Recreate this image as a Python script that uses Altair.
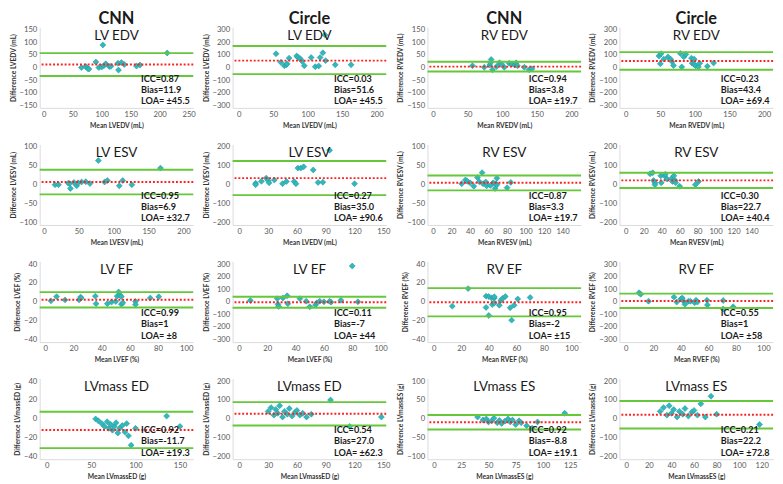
import altair as alt
import pandas as pd

FONT = "Lato"

# ---------------- data ----------------
# Row 1: EDV
lvedv_cnn_mean = [65, 72.5, 76, 78, 90, 95, 100, 102, 104, 107, 113, 116, 128, 129, 134, 139, 160, 166, 213]
lvedv_cnn_diff = [0, 4, -4, -6, 22, 0, 2, 90, 8, 15, 4, 5, 17, -10, 20, 12, 6, 10, 58]
lvedv_cir_mean = [54, 61, 66, 69, 70, 73, 84, 86, 89, 92, 95, 105, 111, 116, 118, 122, 125, 126, 140, 163]
lvedv_cir_diff = [110, 42, 15, 22, 30, 75, 92, 80, 72, 50, 15, 80, 7, 12, 80, 118, 260, 55, 22, 22]
rvedv_cnn_mean = [57, 74, 82, 83, 84, 86, 92, 96, 99, 103, 110, 114, 118, 120, 122, 132, 139, 143]
rvedv_cnn_diff = [7, 1, 10, 19, 32, -9, 4, 19, 14, 1, 17, 14, 10, 19, 7, 1, -9, -5]
rvedv_cir_mean = [48, 51, 50, 55, 61, 65, 67, 69, 79, 81, 84, 87, 95, 96, 99, 99, 101, 105, 107, 118, 127]
rvedv_cir_diff = [92, 110, 30, 67, 85, 67, 47, 17, 112, 5, 85, 105, 75, 35, 25, 67, 15, 5, 35, 10, 37]
# Row 2: ESV
lvesv_cnn_mean = [16, 21, 35, 37, 38, 43, 47, 49, 54, 60, 66, 78, 87, 91, 108, 113, 126, 167]
lvesv_cnn_diff = [0, 0, 4, 3, -10, 6, -3, 5, 7, 8, 3, 64, 7, 11, -3, 11, 0, 44]
lvesv_cir_mean = [17, 17, 23, 28, 30, 31, 36.5, 45, 49, 57, 59, 61, 64, 67, 77, 82, 87, 94, 120]
lvesv_cir_diff = [8, 0, 18, 35, 22, 10, 25, 5, 17, 17, 5, 88, 88, 95, 78, 12, 13, 183, 5]
rvesv_cnn_mean = [31, 35, 37, 40, 44, 48, 50, 53, 54, 57, 58, 62, 65, 67, 68, 69, 69, 80, 84]
rvesv_cnn_diff = [2.5, 12.5, 9, 5, -4, 19, 8, 32, 2.5, 7, -3, -2, 5, -10, 2.5, 17, 0, -8, 6]
rvesv_cir_mean = [27, 30, 31, 32.5, 32.5, 39, 39.5, 43, 44, 46, 51, 52, 53.5, 55, 55.5, 60, 77.5, 81]
rvesv_cir_diff = [58, 63, 22, 10, 0, 47, 10, 47, 55, 30, 33, 17, 47, 22, 10, -8, 0, 17]
# Row 3: EF
lvef_cnn_mean = [4, 8, 14, 24, 25, 25.5, 35.5, 36, 44, 47, 50, 51, 52, 53, 54, 54, 55, 64, 64, 74.5, 80.5]
lvef_cnn_diff = [1, 5.5, 2, 2, 5, 4, 6, -2, -2, -0.3, 0.3, 6, 10.5, 7, 5.5, -2.6, -1, 0.3, -3, 4, 5.3]
lvef_cir_mean = [8, 27, 27.5, 28, 31, 34, 34.5, 43, 47.5, 50, 54, 55, 57, 60, 64, 65, 72, 80, 84]
lvef_cir_diff = [10, 25, -20, -37, 30, 48, -15, 25, 5, -40, -25, -8, 5, 0, 5, -3, 12, 285, 0]
rvef_cnn_mean = [13.5, 25, 38, 38, 40, 40, 42, 42.5, 44, 44, 44, 47.6, 48.7, 50, 52, 55.5, 56.6, 58.4, 61, 70]
rvef_cnn_diff = [-4.6, 14, 6, -6, 5.6, -14.5, 4, -3, 4, 5.3, -1.3, -3.6, 1.3, 3.6, 5.6, -6.3, -19.5, -3.6, 3, 4.6]
rvef_cir_mean = [9.6, 10.8, 16.5, 35, 37, 40, 41, 42, 43, 45.5, 47, 50, 51, 52, 59, 59.3, 70.7, 70.7, 78]
rvef_cir_diff = [72, 60, 5, 37, -2, 22, 30, 5, -20, 5, 5, -8, 12, -2, 12, -25, 10, -57, -40]
# Row 4: LV mass
lvmed_cnn_mean = [55, 58, 62, 65, 68, 70, 72, 74, 76, 78, 80, 82, 85, 88, 90, 92, 95, 100, 135, 150]
lvmed_cnn_diff = [0, -2, -5, -8, -3, -10, -6, -12, -8, -4, -15, -10, -7, -14, -5, -18, -28, -10, 3, -8]
lvmed_cir_mean = [30, 33, 36, 38, 40, 42, 45, 47, 50, 52, 55, 58, 60, 63, 66, 70, 75, 95, 115, 148]
lvmed_cir_diff = [40, 60, 20, 50, 30, 70, 10, 40, 25, 55, 15, 35, 45, 20, 30, 10, 25, 100, -40, 10]
lvmes_cnn_mean = [40, 45, 48, 50, 53, 55, 58, 60, 62, 65, 68, 70, 72, 75, 78, 80, 85, 90, 95, 120]
lvmes_cnn_diff = [5, -3, 0, -8, -5, 2, -10, -4, -12, -6, 0, -8, -3, -15, -5, -10, -18, -25, -8, 15]
lvmes_cir_mean = [30, 33, 36, 38, 40, 42, 45, 47, 50, 52, 55, 58, 60, 63, 66, 70, 75, 80, 118]
lvmes_cir_diff = [40, 60, 20, 70, 30, 50, 10, 40, 25, 55, 15, 35, 45, 20, 80, 10, 120, 25, -30]

# panel titles, headers, axis labels, stats
panel_titles = ["LV EDV", "LV EDV", "RV EDV", "RV EDV",
                "LV ESV", "LV ESV", "RV ESV", "RV ESV",
                "LV EF", "LV EF", "RV EF", "RV EF",
                "LVmass ED", "LVmass ED", "LVmass ES", "LVmass ES"]
column_headers = ["CNN", "Circle", "CNN", "Circle"]
x_titles = ["Mean LVEDV (mL)", "Mean LVEDV (mL)", "Mean RVEDV (mL)", "Mean RVEDV (mL)",
            "Mean LVESV (mL)", "Mean LVEDV (mL)", "Mean RVESV (mL)", "Mean RVESV (mL)",
            "Mean LVEF (%)", "Mean LVEF (%)", "Mean RVEF (%)", "Mean RVEF (%)",
            "Mean LVmassED (g)", "Mean LVmassED (g)", "Mean LVmassES (g)", "Mean LVmassES (g)"]
y_titles = ["Difference LVEDV (mL)", "Difference LVEDV (mL)", "Difference RVEDV (mL)", "Difference RVEDV (mL)",
            "Difference LVESV (mL)", "Difference LVESV (mL)", "Difference RVESV (mL)", "Difference RVESV (mL)",
            "Difference LVEF (%)", "Difference LVEF (%)", "Difference RVEF (%)", "Difference RVEF (%)",
            "Difference LVmassED (g)", "Difference LVmassED (g)", "Difference LVmassES (g)", "Difference LVmassES (g)"]
icc_labels = ["ICC=0.87", "ICC=0.03", "ICC=0.94", "ICC=0.23",
              "ICC=0.95", "ICC=0.27", "ICC=0.87", "ICC=0.30",
              "ICC=0.99", "ICC=0.11", "ICC=0.95", "ICC=0.55",
              "ICC=0.92", "ICC=0.54", "ICC=0.92", "ICC=0.21"]
bias_labels = ["Bias=11.9", "Bias=51.6", "Bias=3.8", "Bias=43.4",
               "Bias=6.9", "Bias=35.0", "Bias=3.3", "Bias=22.7",
               "Bias=1", "Bias=-7", "Bias=-2", "Bias=1",
               "Bias=-11.7", "Bias=27.0", "Bias=-8.8", "Bias=22.2"]
loa_labels = ["LOA= \u00b145.5", "LOA= \u00b145.5", "LOA= \u00b119.7", "LOA= \u00b169.4",
              "LOA= \u00b132.7", "LOA= \u00b190.6", "LOA= \u00b119.7", "LOA= \u00b140.4",
              "LOA= \u00b18", "LOA= \u00b144", "LOA= \u00b115", "LOA= \u00b158",
              "LOA= \u00b119.3", "LOA= \u00b162.3", "LOA= \u00b119.1", "LOA= \u00b172.8"]
# drawn reference lines: bias line, upper and lower limit (as seen in the picture)
bias_lines = [11.9, 55, 3.8, 52, 6.9, 35, 5, 22.7, 2.2, -4, -0.5, 7, -11.7, 27, -8.8, 22.2]
upper_lines = [57.4, 172, 23.5, 123, 39.6, 125.6, 24.5, 63.1, 10.3, 40, 14.5, 65, 7.6, 89.3, 10.3, 95]
lower_lines = [-33.6, -52, -15.9, -17, -25.8, -55.6, -15, -17.7, -6, -48, -15.5, -50, -31, -35.3, -27.9, -50.6]
# axis tick labels
x_ticks = [[0, 50, 100, 150, 200, 250], [0, 50, 100, 150, 200], [0, 50, 100, 150, 200], [0, 50, 100, 150, 200],
           [0, 50, 100, 150, 200], [0, 30, 60, 90, 120, 150], [0, 20, 40, 60, 80, 100, 120, 140], [0, 20, 40, 60, 80, 100, 120, 140],
           [0, 20, 40, 60, 80, 100], [0, 20, 40, 60, 80, 100], [0, 20, 40, 60, 80, 100], [0, 20, 40, 60, 80, 100],
           [0, 50, 100, 150], [0, 30, 60, 90, 120, 150], [0, 25, 50, 75, 100, 125], [0, 20, 40, 60, 80, 100, 120]]
x_domains = [[-7, 258], [-9, 214], [-8, 214], [-9, 213],
             [-6, 214], [-7, 153], [-6, 160], [-7, 164],
             [-4, 105], [-4.5, 104], [-4.5, 107], [-4.6, 107],
             [-8, 165], [-7, 153], [-6, 135], [-6, 130]]
y_ticks = [[-150, -100, -50, 0, 50, 100, 150], [-300, -200, -100, 0, 100, 200, 300],
           [-150, -100, -50, 0, 50, 100, 150], [-300, -200, -100, 0, 100, 200, 300],
           [-100, -50, 0, 50, 100], [-200, -100, 0, 100, 200],
           [-100, -50, 0, 50, 100], [-200, -100, 0, 100, 200],
           [-40, -20, 0, 20, 40], [-300, -200, -100, 0, 100, 200, 300],
           [-40, -20, 0, 20, 40], [-300, -200, -100, 0, 100, 200, 300],
           [-40, -20, 0, 20, 40], [-200, -100, 0, 100, 200],
           [-100, -50, 0, 50, 100], [-200, -100, 0, 100, 200]]

means = [lvedv_cnn_mean, lvedv_cir_mean, rvedv_cnn_mean, rvedv_cir_mean,
         lvesv_cnn_mean, lvesv_cir_mean, rvesv_cnn_mean, rvesv_cir_mean,
         lvef_cnn_mean, lvef_cir_mean, rvef_cnn_mean, rvef_cir_mean,
         lvmed_cnn_mean, lvmed_cir_mean, lvmes_cnn_mean, lvmes_cir_mean]
diffs = [lvedv_cnn_diff, lvedv_cir_diff, rvedv_cnn_diff, rvedv_cir_diff,
         lvesv_cnn_diff, lvesv_cir_diff, rvesv_cnn_diff, rvesv_cir_diff,
         lvef_cnn_diff, lvef_cir_diff, rvef_cnn_diff, rvef_cir_diff,
         lvmed_cnn_diff, lvmed_cir_diff, lvmes_cnn_diff, lvmes_cir_diff]

W, H = 160, 84
GREEN = "#66c73a"
RED = "#ff1f1f"
TEAL = "#30b8bb"


def text_layer(txt, x, y, size, weight="normal", align="left"):
    return alt.Chart(pd.DataFrame({"k": [0]})).mark_text(
        text=txt, font=FONT, fontSize=size, fontWeight=weight, align=align,
        baseline="middle", color="#1a1a1a"
    ).encode(x=alt.value(x), y=alt.value(y))


def panel(i):
    ymax = max(y_ticks[i])
    ydom = [-ymax * 1.07, ymax * 1.07]
    xs = alt.Scale(domain=x_domains[i], nice=False, zero=False)
    ys = alt.Scale(domain=ydom, nice=False, zero=False)

    def yaxis():
        return alt.Axis(values=y_ticks[i], labelOverlap=False, labelBound=False,
                        labelFlush=False, title=y_titles[i])

    pts = pd.DataFrame({"m": means[i], "d": diffs[i]})
    xenc = alt.X("m:Q", scale=xs, title=x_titles[i],
                 axis=alt.Axis(values=x_ticks[i], labelOverlap=False))
    lim = alt.Chart(pd.DataFrame({"d": [upper_lines[i], lower_lines[i]]})).mark_rule(
        color=GREEN, strokeWidth=2).encode(y=alt.Y("d:Q", scale=ys, axis=yaxis()))
    bias = alt.Chart(pd.DataFrame({"d": [bias_lines[i]]})).mark_rule(
        color=RED, strokeWidth=2, strokeDash=[2, 2]).encode(y=alt.Y("d:Q", scale=ys, axis=yaxis()))
    points = alt.Chart(pts).mark_point(
        shape="diamond", filled=True, size=38, color=TEAL, opacity=1,
        stroke="#1f9aa0", strokeWidth=0.6
    ).encode(x=xenc, y=alt.Y("d:Q", scale=ys, axis=yaxis()))
    title = text_layer(panel_titles[i], W / 2, 9, 14, align="center")
    tx = W * 0.66
    t1 = text_layer(icc_labels[i], tx, H * 0.64, 9.5, "bold")
    t2 = text_layer(bias_labels[i], tx, H * 0.78, 9.5, "bold")
    t3 = text_layer(loa_labels[i], tx, H * 0.92, 9.5, "bold")
    layers = [points, lim, bias, title, t1, t2, t3]
    if i < 4:
        layers.append(text_layer(column_headers[i], W / 2, -8, 17, "bold", align="center"))
    return alt.layer(*layers).properties(width=W, height=H)


charts = [panel(i) for i in range(16)]

chart = alt.concat(*charts, columns=4, spacing={"row": 14, "column": 5}).configure(
    background="white", padding={"top": -8, "left": 0, "right": 0, "bottom": 0}
).configure_view(
    stroke="transparent"
).configure_axis(
    grid=False, ticks=False, domainColor="#d9d9d9", domainWidth=1,
    labelFont=FONT, labelFontSize=8, labelColor="#595959", labelPadding=3,
    titleFont=FONT, titleFontSize=7, titleFontWeight="bold", titleColor="#333333",
    titlePadding=3
)

chart.save("out.html", embed_options={"renderer": "svg", "actions": False})
